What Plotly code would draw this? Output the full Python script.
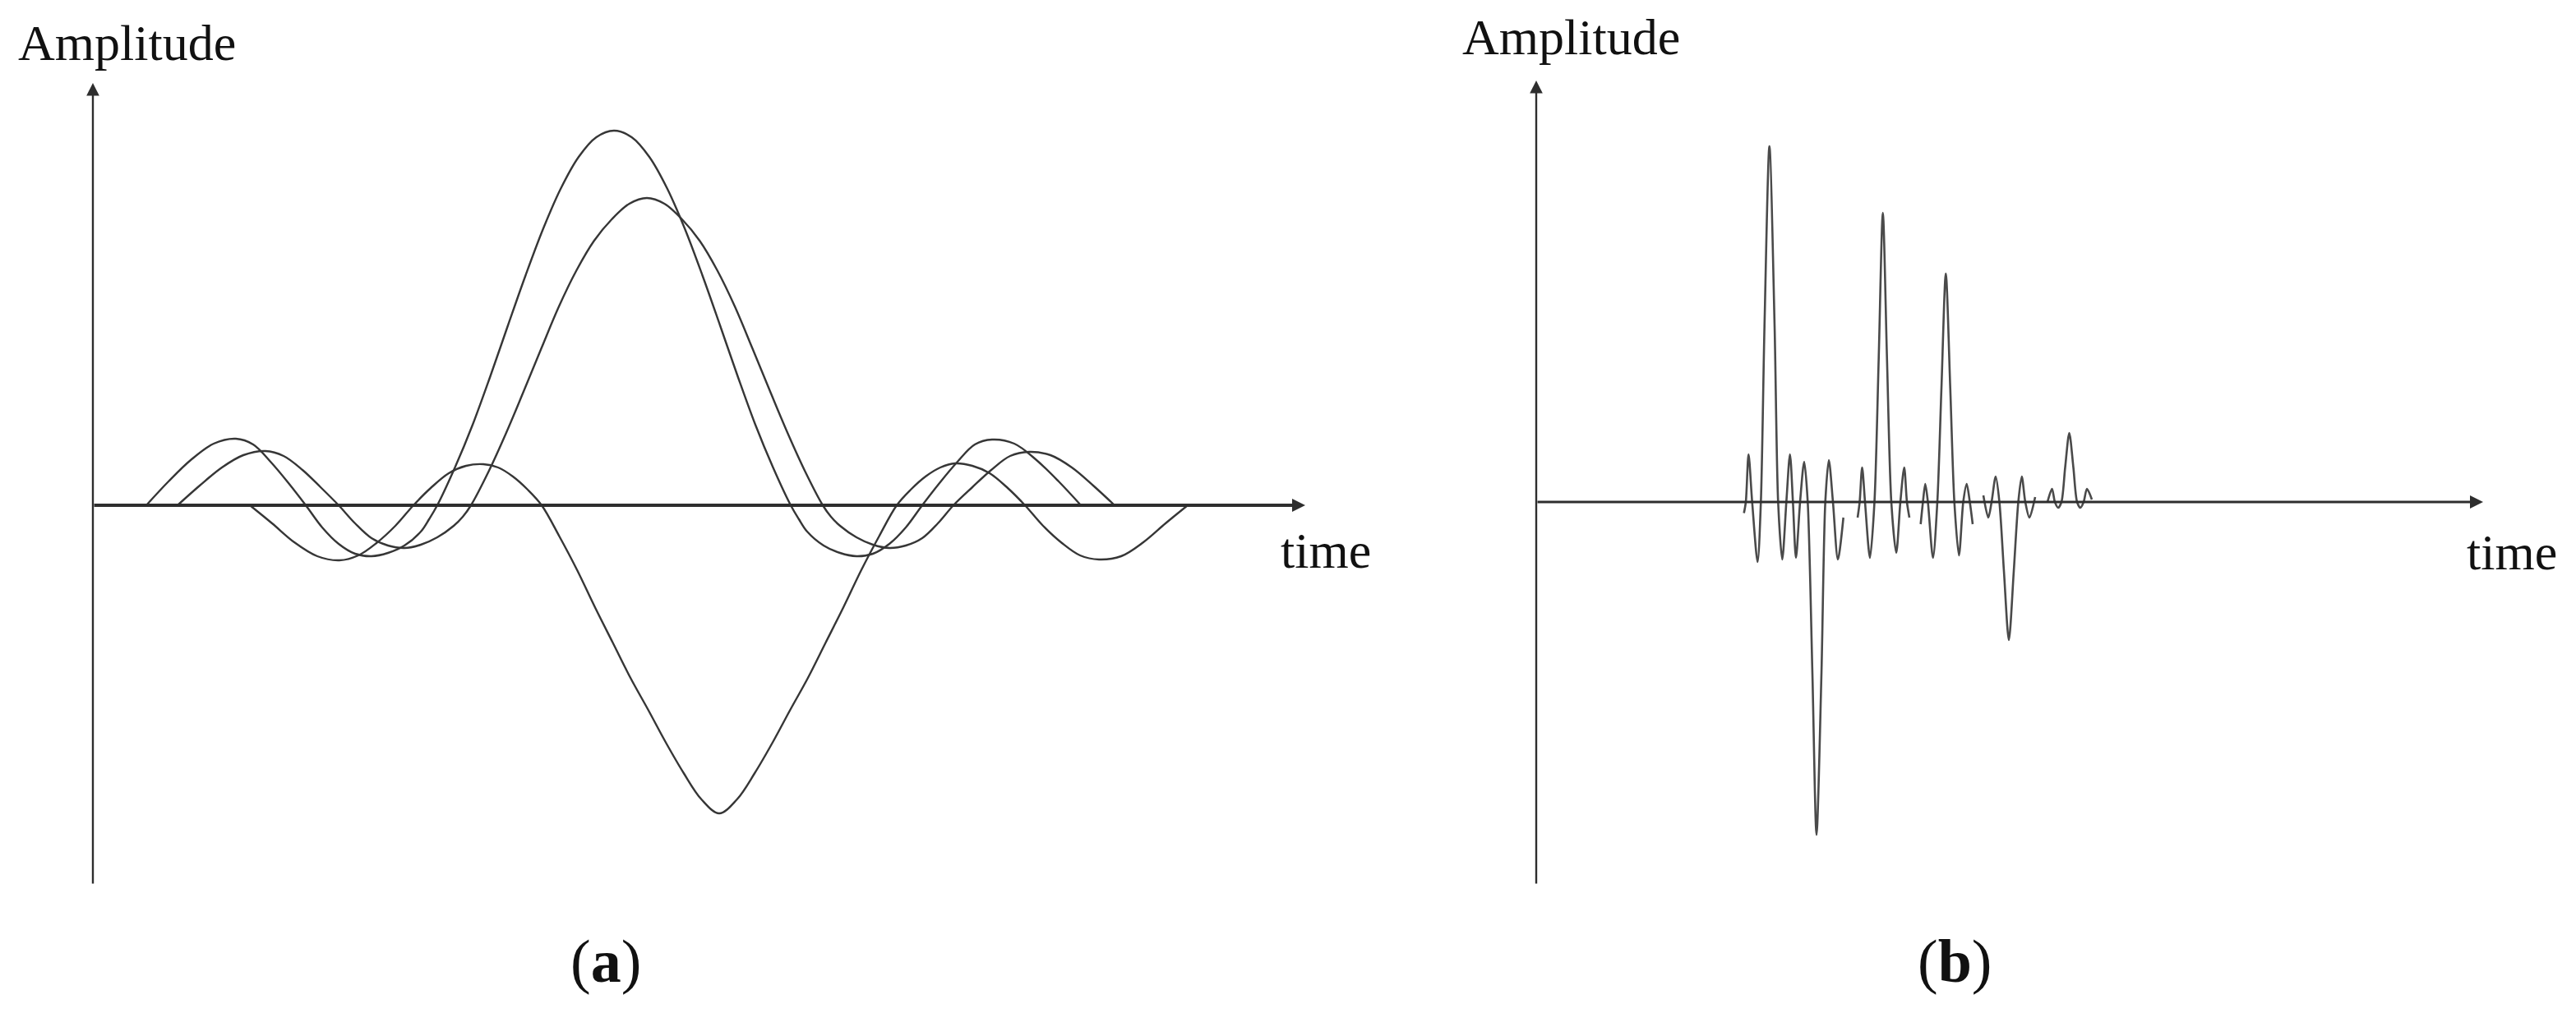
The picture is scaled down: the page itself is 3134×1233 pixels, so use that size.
import plotly.graph_objects as go

W, H = 3134, 1233

# ---------------- Panel (a): three wavelets (time offset from axis, amplitude) ----------------
t_wave_a = [65, 92, 119, 147, 174, 195, 217, 238, 259, 279, 299, 319, 339, 359, 379, 399, 409, 419,
            440.5, 462, 483.5, 505, 526.5, 548, 569.5, 591, 612.5, 634,
            655.5, 677, 698.5, 720, 741.5, 763, 784.5, 806, 827.5, 849,
            859, 869, 889, 909, 929, 949, 969, 989, 1009, 1030, 1051, 1073, 1094, 1121, 1148, 1175, 1202]
amp_wave_a = [0, 29, 55, 75, 81, 74, 52, 27, 0, -27, -47, -59, -62, -58, -49, -32, -17, 0,
              46, 98, 157, 219, 280, 337, 386, 424, 448, 456,
              448, 424, 386, 337, 280, 219, 157, 98, 46, 0,
              -17, -32, -49, -58, -62, -59, -47, -27, 0, 27, 52, 74, 80, 75, 55, 29, 0]

t_wave_b = [103, 130, 157, 183, 210, 232, 255, 277, 299, 319, 339, 359, 379, 399, 419, 439, 450, 460,
            481.4, 502.8, 524.2, 545.6, 567, 588.4, 609.8, 631.2, 652.6, 674,
            695.4, 716.8, 738.2, 759.6, 781, 802.4, 823.8, 845.2, 866.6, 888,
            898, 909, 929, 949, 969, 989, 1009, 1028, 1047, 1070, 1093, 1116, 1139, 1165, 1191, 1217, 1243]
amp_wave_b = [0, 24, 46, 61, 66, 60, 43, 22, 0, -22, -40, -49, -52, -48, -39, -25, -14, 0,
              41, 88, 139, 191, 242, 286, 322, 348, 367, 374,
              367, 348, 322, 286, 242, 191, 139, 88, 41, 0,
              -14, -25, -39, -48, -52, -49, -40, -22, 0, 22, 43, 60, 65, 61, 46, 24, 0]

t_wave_c = [191, 218, 245, 273, 300, 323, 345, 368, 390, 411, 433, 454, 475, 493, 511, 529, 546,
            567.6, 589.2, 610.8, 632.4, 654, 675.6, 697.2, 718.8, 740.4, 762,
            783.6, 805.2, 826.8, 848.4, 870, 891.6, 913.2, 934.8, 956.4, 978,
            995, 1013, 1031, 1049, 1070, 1091, 1113, 1134, 1156, 1179, 1201, 1224, 1251, 1278, 1305, 1332]
amp_wave_c = [0, -22, -45, -62, -67, -61, -46, -25, 0, 21, 39, 48, 50, 46, 35, 19, 0,
              -38, -79, -124, -167, -210, -249, -289, -326, -358, -375,
              -358, -326, -289, -249, -210, -167, -124, -79, -38, 0,
              19, 35, 46, 51, 48, 39, 21, 0, -25, -46, -61, -66, -62, -45, -22, 0]

# ---------------- Panel (b): seismic trace, five pieces ----------------
t_seg1 = [252.7, 255, 258.3, 262.7, 269.3, 273.3, 277.7, 283.7, 290, 294.3, 299.3, 304.3,
          308.7, 312.3, 316, 321, 326, 330.3, 336, 341, 347, 351.7, 356, 361, 367, 373.7]
amp_seg1 = [-13.5, 0, 58, 0, -73, 0, 214, 433, 214, 0, -70, 0,
            58, 0, -68, 0, 49, 0, -209, -405, -209, 0, 51, 0, -70, -19]

t_seg2 = [391, 393.5, 396.5, 400, 406, 411.5, 416.7, 421.7, 426.7, 432, 438, 443, 447.7, 451, 454]
amp_seg2 = [-19, 0, 42, 0, -68, 0, 176, 352, 176, 0, -62, 0, 42, 0, -19]

t_seg3 = [467.7, 470.5, 473.3, 476.5, 482.7, 488, 493, 498.3, 503.7, 508.7, 514.3, 519.5,
          523.7, 527.5, 531]
amp_seg3 = [-27, 0, 22, 0, -68, 0, 139, 278, 139, 0, -65, 0, 22, 0, -27]

t_seg4 = [544, 550, 554, 559, 563.5, 569, 575, 581, 586.5, 590.7, 595, 600, 607]
amp_seg4 = [8, -19, 0, 31, 0, -84, -168, -84, 0, 31, 0, -19, 6]

t_seg5 = [622, 627.5, 631, 635, 639, 643.5, 648.5, 653.5, 658, 662, 666, 670, 676]
amp_seg5 = [0, 16, 0, -7, 0, 42, 84, 42, 0, -7, 0, 16, 3]

# ---------------- Text ----------------
label_amp = "Amplitude"
label_time = "time"
label_a = "(<b>a</b>)"
label_b = "(<b>b</b>)"

# axis extents (data units)
xa_max, ya_min, ya_max = 1475, -462, 514
xb_max, yb_min, yb_max = 1152, -466, 513

CURVE = "#363636"
AXIS = "#2e2e2e"
FONT = "Liberation Serif"

fig = go.Figure()
for t, a in [(t_wave_a, amp_wave_a), (t_wave_b, amp_wave_b), (t_wave_c, amp_wave_c)]:
    fig.add_trace(go.Scatter(x=t, y=a, mode="lines", xaxis="x", yaxis="y",
                             line=dict(color=CURVE, width=2.4, shape="spline", smoothing=1.0,
                                       simplify=False),
                             hoverinfo="skip"))

for t, a in [(t_seg1, amp_seg1), (t_seg2, amp_seg2), (t_seg3, amp_seg3),
             (t_seg4, amp_seg4), (t_seg5, amp_seg5)]:
    fig.add_trace(go.Scatter(x=t, y=a, mode="lines", xaxis="x2", yaxis="y2",
                             line=dict(color="#4a4a4a", width=2.6, shape="spline", smoothing=0.8,
                                       simplify=False),
                             hoverinfo="skip"))

def px_x(p):
    return p / W

def px_y(p):
    return 1 - p / H

ax_common = dict(visible=False, showgrid=False, zeroline=False, fixedrange=True)
fig.update_layout(
    width=W, height=H,
    margin=dict(l=0, r=0, t=0, b=0),
    paper_bgcolor="white", plot_bgcolor="white",
    showlegend=False,
    xaxis=dict(domain=[px_x(113), px_x(1588)], range=[0, xa_max], anchor="y", **ax_common),
    yaxis=dict(domain=[px_y(1077), px_y(101)], range=[ya_min, ya_max], anchor="x", **ax_common),
    xaxis2=dict(domain=[px_x(1869), px_x(3021)], range=[0, xb_max], anchor="y2", **ax_common),
    yaxis2=dict(domain=[px_y(1077), px_y(98)], range=[yb_min, yb_max], anchor="x2", **ax_common),
)

ann = []
# axis arrows
for xr, yr, xmax, ymin, ymax, xw in [("x", "y", xa_max, ya_min, ya_max, 4.0),
                                     ("x2", "y2", xb_max, yb_min, yb_max, 3.2)]:
    ann.append(dict(xref=xr, yref=yr, axref=xr, ayref=yr, x=xmax, y=0, ax=0, ay=0, text="",
                    showarrow=True, arrowhead=2, arrowsize=0.8 if xw > 3.5 else 1.0,
                    arrowwidth=xw, arrowcolor=AXIS, standoff=0))
    ann.append(dict(xref=xr, yref=yr, axref=xr, ayref=yr, x=0, y=ymax, ax=0, ay=ymin, text="",
                    showarrow=True, arrowhead=2, arrowsize=1.3, arrowwidth=2.4,
                    arrowcolor=AXIS, standoff=0))

def txt(s, x, y, size, xanchor="center"):
    return dict(xref="paper", yref="paper", x=px_x(x), y=px_y(y), text=s, showarrow=False,
                xanchor=xanchor, yanchor="middle",
                font=dict(family=FONT, size=size, color="#111111"))

ann += [
    txt(label_amp, 154, 52, 62),
    txt(label_time, 1556, 670, 62, "left"),
    txt(label_amp, 1911, 45, 62),
    txt(label_time, 2999, 672, 62, "left"),
    txt(label_a, 737, 1170, 74),
    txt(label_b, 2378, 1170, 74),
]
fig.update_layout(annotations=ann)

fig.write_html("out.html", config={"staticPlot": True},
               post_script="document.body.style.margin='0';document.body.style.overflow='hidden';")
